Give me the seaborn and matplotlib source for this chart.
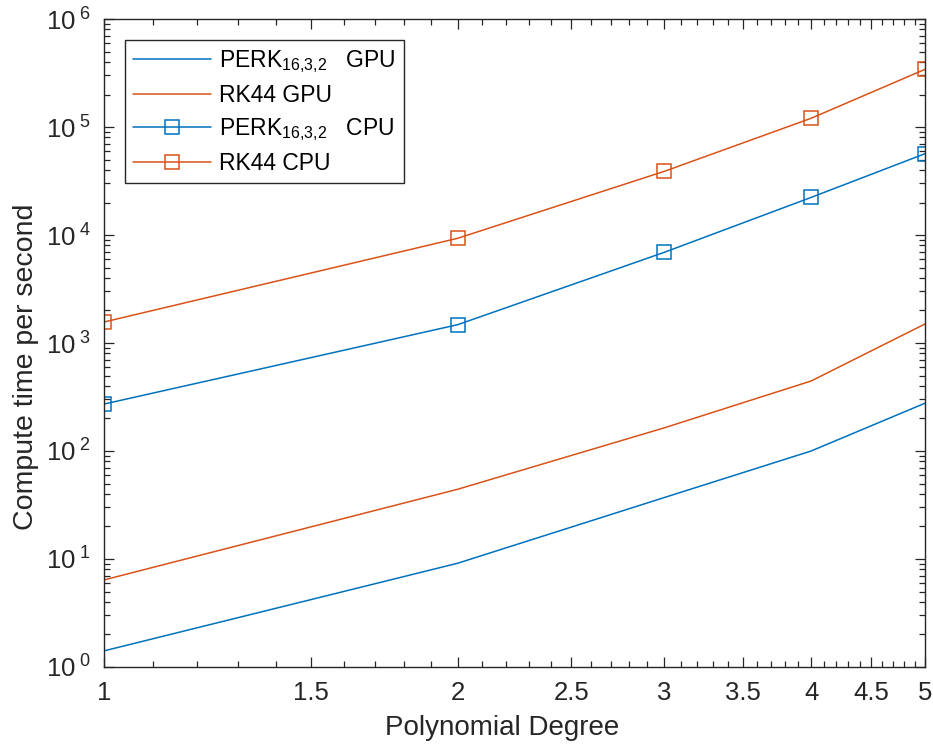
import numpy as np
import pandas as pd
import matplotlib
matplotlib.use("Agg")
import matplotlib.pyplot as plt
import matplotlib.ticker as mticker
import seaborn as sns

degrees = [1, 2, 3, 4, 5]
perk_gpu = [1.41, 9.13, 37.1, 100, 277]
rk44_gpu = [6.4, 44.2, 164, 445, 1500]
perk_cpu = [272, 1477, 6920, 22300, 56600]
rk44_cpu = [1565, 9320, 38900, 120500, 342000]

labels = [r"PERK$_{16{,}3{,}2}$   GPU",
          "RK44 GPU",
          r"PERK$_{16{,}3{,}2}$   CPU",
          "RK44 CPU"]
series = [perk_gpu, rk44_gpu, perk_cpu, rk44_cpu]
x_ticks = [1, 1.5, 2, 2.5, 3, 3.5, 4, 4.5, 5]
y_ticks = [1e0, 1e1, 1e2, 1e3, 1e4, 1e5, 1e6]

blue = "#0072BD"
orange = "#D95319"
colors = [blue, orange, blue, orange]
markers = [None, None, "s", "s"]

sns.set_style("ticks")
plt.rcParams["font.family"] = ["Liberation Sans", "DejaVu Sans"]
plt.rcParams["mathtext.fontset"] = "custom"
plt.rcParams["mathtext.rm"] = "Liberation Sans"
plt.rcParams["mathtext.it"] = "Liberation Sans:italic"
plt.rcParams["mathtext.bf"] = "Liberation Sans:bold"

fig = plt.figure(figsize=(9.33, 7.49), dpi=100)
ax = fig.add_axes([0.1115, 0.1095, 0.8799, 0.8651])

for lab, vals, c, m in zip(labels, series, colors, markers):
    df = pd.DataFrame({"x": degrees, "y": vals})
    kw = dict(marker=m, markersize=9.5, markerfacecolor="none",
              markeredgecolor=c, markeredgewidth=1.1) if m else {}
    sns.lineplot(data=df, x="x", y="y", ax=ax, color=c, linewidth=1.1,
                 label=lab, **kw)

ax.set_xscale("log")
ax.set_yscale("log")
ax.set_xlim(1, 5)
ax.set_ylim(1, 1e6)

ax.xaxis.set_major_locator(mticker.FixedLocator(x_ticks))
ax.xaxis.set_major_formatter(mticker.FuncFormatter(lambda v, p: f"{v:g}"))
minor_x = [v for v in np.round(np.arange(1.0, 5.01, 0.1), 2) if v not in x_ticks]
ax.xaxis.set_minor_locator(mticker.FixedLocator(minor_x))
ax.xaxis.set_minor_formatter(mticker.NullFormatter())

ax.yaxis.set_major_locator(mticker.FixedLocator(y_ticks))
ax.yaxis.set_major_formatter(mticker.FuncFormatter(
    lambda v, p: r"$\mathdefault{10^{\;%d}}$" % int(round(np.log10(v)))))
ax.yaxis.set_minor_locator(mticker.LogLocator(base=10, subs=np.arange(2, 10), numticks=20))
ax.yaxis.set_minor_formatter(mticker.NullFormatter())

axcol = "#262626"
for sp in ax.spines.values():
    sp.set_visible(True)
    sp.set_color(axcol)
    sp.set_linewidth(1.0)
ax.tick_params(which="both", direction="in", top=True, right=True, colors=axcol,
               labelcolor="#262626", width=0.9)
ax.tick_params(which="major", length=7, labelsize=18.5, pad=10)
ax.tick_params(which="minor", length=4)

ax.set_xlabel("Polynomial Degree", fontsize=20, color="#262626")
ax.set_ylabel("Compute time per second", fontsize=20.5, color="#262626")
ax.xaxis.set_label_coords(0.485, -0.074)
ax.yaxis.set_label_coords(-0.079, 0.463)

leg = ax.legend(loc="upper left", bbox_to_anchor=(0.0256, 0.9676), fontsize=16.5,
                frameon=True, fancybox=False, framealpha=1, edgecolor=axcol,
                handlelength=3.4, handletextpad=0.35, labelspacing=0.4,
                borderpad=0.35, borderaxespad=0)
leg.get_frame().set_linewidth(1.0)
for t in leg.get_texts():
    t.set_color("#000000")

fig.savefig("out.png", dpi=100)
